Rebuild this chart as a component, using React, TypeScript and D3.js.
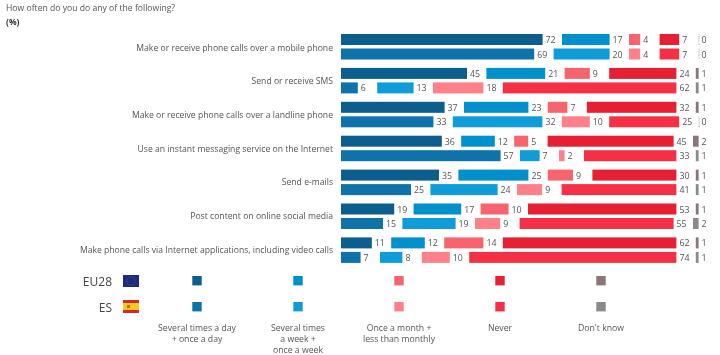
import React from "react";
import * as d3 from "d3";

const questions = [
  "Make or receive phone calls over a mobile phone",
  "Send or receive SMS",
  "Make or receive phone calls over a landline phone",
  "Use an instant messaging service on the Internet",
  "Send e-mails",
  "Post content on online social media",
  "Make phone calls via Internet applications, including video calls",
];
const eu28Values = [
  [72, 17, 4, 7, 0],
  [45, 21, 9, 24, 1],
  [37, 23, 7, 32, 1],
  [36, 12, 5, 45, 2],
  [35, 25, 9, 30, 1],
  [19, 17, 10, 53, 1],
  [11, 12, 14, 62, 1],
];
const esValues = [
  [69, 20, 4, 7, 0],
  [6, 13, 18, 62, 1],
  [33, 32, 10, 25, 0],
  [57, 7, 2, 33, 1],
  [25, 24, 9, 41, 1],
  [15, 19, 9, 55, 2],
  [7, 8, 10, 74, 1],
];
const eu28Colors = ["#0b5e8e", "#0090cb", "#f8646e", "#e61f33", "#8a7579"];
const esColors = ["#0e72ab", "#109cd8", "#ff8089", "#f63044", "#8a8a8a"];
const legendLabels = [
  ["Several times a day", "+ once a day"],
  ["Several times", "a week +", "once a week"],
  ["Once a month +", "less than monthly"],
  ["Never"],
  ["Don't know"],
];
const FONT = "'Open Sans', sans-serif";
const TXT = "#555";

const GAP = 19.4;
const x = d3.scaleLinear().domain([0, 100]).range([0, 280]);
const groupY = d3.scaleLinear().domain([0, 6]).range([34, 237.4]);
const labelY = d3.scaleLinear().domain([0, 6]).range([50.5, 252.5]);
const legendX = d3.scalePoint<number>().domain([0, 1, 2, 3, 4]).range([197, 601]);

function Row({ values, colors, y }: { values: number[]; colors: string[]; y: number }) {
  let cur = 341;
  return (
    <g>
      {values.map((v, i) => {
        const start = cur;
        const w = x(v);
        cur += w + GAP;
        return (
          <g key={i}>
            {v > 0 ? (
              <rect x={start} y={y} width={w} height={11} fill={colors[i]} />
            ) : (
              <rect x={start} y={y} width={0.8} height={11} fill="#c4c4c4" />
            )}
            <text x={start + w + 3} y={y + 9} fontSize={8.8} fill={TXT} fontFamily={FONT}>{v}</text>
          </g>
        );
      })}
    </g>
  );
}

const euStars = d3.range(12).map((i) => (i * Math.PI) / 6);

export default function App() {
  return (
    <svg width={720} height={355} style={{ position: "absolute", left: 0, top: 0, filter: "blur(0.35px)" }}>
      <rect width={720} height={355} fill="#fff" />
      <text x={6} y={11} fontSize={8.65} fill={TXT} fontFamily={FONT}>How often do you do any of the following?</text>
      <text x={6} y={25} fontSize={8.5} fontWeight="bold" fill="#333" fontFamily={FONT}>(%)</text>
      {questions.map((q, i) => (
        <g key={q}>
          <text x={333} y={labelY(i)} textAnchor="end" fontSize={8.65} fill={TXT} fontFamily={FONT}>{q}</text>
          <Row values={eu28Values[i]} colors={eu28Colors} y={groupY(i)} />
          <Row values={esValues[i]} colors={esColors} y={groupY(i) + 14.5} />
        </g>
      ))}
      <text x={112} y={286} textAnchor="end" fontSize={12} fill="#444" fontFamily={FONT}>EU28</text>
      <text x={112} y={312} textAnchor="end" fontSize={12} fill="#444" fontFamily={FONT}>ES</text>
      <rect x={123} y={275} width={16} height={12} fill="#1a2b80" />
      {euStars.map((a, i) => (
        <circle key={i} cx={131 + 4 * Math.cos(a)} cy={281 + 4 * Math.sin(a)} r={0.45} fill="#8c8f45" />
      ))}
      <rect x={123} y={300} width={16} height={13} fill="#d8262c" />
      <rect x={123} y={303} width={16} height={7} fill="#f7c81e" />
      <rect x={127} y={305} width={3} height={3} fill="#b5692c" />
      {legendLabels.map((lines, i) => (
        <g key={i}>
          <rect x={legendX(i)! - 4.7} y={276} width={9.4} height={9.4} fill={eu28Colors[i]} />
          <rect x={legendX(i)! - 4.7} y={302} width={9.4} height={9.4} fill={esColors[i]} />
          {lines.map((l, j) => (
            <text key={j} x={legendX(i)} y={330.5 + j * 11} textAnchor="middle" fontSize={8.7} fill={TXT} fontFamily={FONT}>{l}</text>
          ))}
        </g>
      ))}
    </svg>
  );
}
